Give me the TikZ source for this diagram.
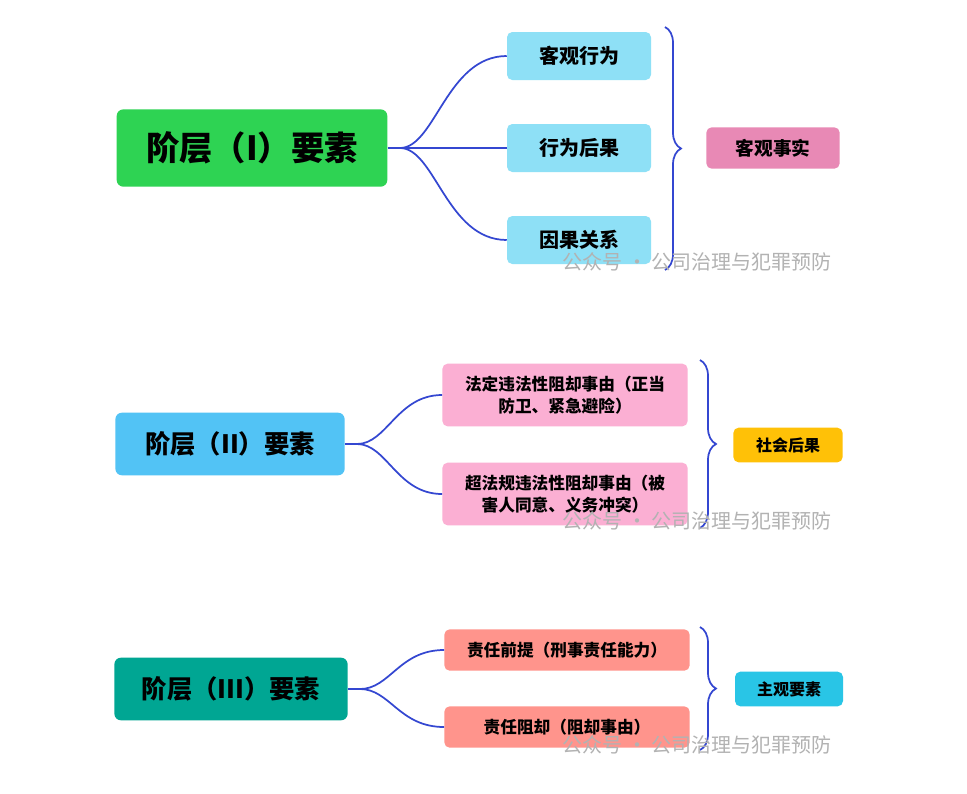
\documentclass[tikz,border=0pt]{standalone}
\usepackage{fontspec}
\newfontfamily\cjk{Noto Sans CJK SC}
\usetikzlibrary{decorations.pathreplacing}
\definecolor{linkblue}{HTML}{3447D1}
\definecolor{lvone}{HTML}{2ED353}
\definecolor{lvtwo}{HTML}{52C3F5}
\definecolor{lvthree}{HTML}{00A693}
\definecolor{factbox}{HTML}{8EE0F6}
\definecolor{illbox}{HTML}{FBAFD3}
\definecolor{dutybox}{HTML}{FF948C}
\definecolor{factsum}{HTML}{E889B5}
\definecolor{illsum}{HTML}{FFC107}
\definecolor{dutysum}{HTML}{29C5E6}
\tikzset{
  main/.style={rounded corners=5pt, font=\cjk\bfseries\fontsize{19}{22}\selectfont, text=black, inner sep=0pt},
  leaf/.style={rounded corners=4pt, font=\cjk\bfseries\fontsize{12.5}{17}\selectfont, text=black, inner sep=0pt, align=center},
  link/.style={linkblue, line width=1.3pt},
  brace/.style={linkblue, line width=1.3pt, decorate, decoration={brace, amplitude=12pt}},
  wmark/.style={font=\cjk\fontsize{15}{18}\selectfont, text=black!30}
}
\begin{document}
\begin{tikzpicture}[x=0.75pt, y=-0.75pt]
    \useasboundingbox[fill=white] (0,0) rectangle (967,793);

    % level I
    \node[main, fill=lvone, minimum width=203pt, minimum height=58pt, font=\cjk\bfseries\fontsize{25}{28}\selectfont] (m1) at (252,148) {阶层（I）要素};
    \node[leaf, fill=factbox, minimum width=108pt, minimum height=36pt, font=\cjk\bfseries\fontsize{15}{18}\selectfont] (c11) at (579,56) {客观行为};
    \node[leaf, fill=factbox, minimum width=108pt, minimum height=36pt, font=\cjk\bfseries\fontsize{15}{18}\selectfont] (c12) at (579,148) {行为后果};
    \node[leaf, fill=factbox, minimum width=108pt, minimum height=36pt, font=\cjk\bfseries\fontsize{15}{18}\selectfont] (c13) at (579,240) {因果关系};
    \coordinate (j1) at (400,148);
    \draw[link] (m1.east) -- (j1);
    \draw[link] (j1) .. controls +(35,0) and +(-60,0) .. (c11.west);
    \draw[link] (j1) -- (c12.west);
    \draw[link] (j1) .. controls +(35,0) and +(-60,0) .. (c13.west);
    \coordinate (b1t) at (665,27);
    \coordinate (b1b) at (665,270);
    \draw[brace] (b1t) -- (b1b);
    \node[leaf, fill=factsum, minimum width=100pt, minimum height=31pt, font=\cjk\bfseries\fontsize{14}{17}\selectfont] (r1) at (773,148) {客观事实};
    \node[wmark] (w1) at (697,262) {公众号 · 公司治理与犯罪预防};

    % level II
    \node[main, fill=lvtwo, minimum width=172pt, minimum height=47pt] (m2) at (230,444) {阶层（II）要素};
    \node[leaf, fill=illbox, minimum width=184pt, minimum height=47pt] (c21) at (565,395) {法定违法性阻却事由（正当\\防卫、紧急避险）};
    \node[leaf, fill=illbox, minimum width=184pt, minimum height=47pt] (c22) at (565,494) {超法规违法性阻却事由（被\\害人同意、义务冲突）};
    \coordinate (j2) at (357,444);
    \draw[link] (m2.east) -- (j2);
    \draw[link] (j2) .. controls +(30,0) and +(-45,0) .. (c21.west);
    \draw[link] (j2) .. controls +(30,0) and +(-45,0) .. (c22.west);
    \coordinate (b2t) at (700,360);
    \coordinate (b2b) at (700,528);
    \draw[brace] (b2t) -- (b2b);
    \node[leaf, fill=illsum, minimum width=82pt, minimum height=26pt, font=\cjk\bfseries\fontsize{12}{15}\selectfont] (r2) at (788,445) {社会后果};
    \node[wmark] (w2) at (697,521) {公众号 · 公司治理与犯罪预防};

    % level III
    \node[main, fill=lvthree, minimum width=175pt, minimum height=47pt] (m3) at (231,689) {阶层（III）要素};
    \node[leaf, fill=dutybox, minimum width=184pt, minimum height=31pt] (c31) at (567,650) {责任前提（刑事责任能力）};
    \node[leaf, fill=dutybox, minimum width=184pt, minimum height=31pt] (c32) at (567,727) {责任阻却（阻却事由）};
    \coordinate (j3) at (360,689);
    \draw[link] (m3.east) -- (j3);
    \draw[link] (j3) .. controls +(30,0) and +(-45,0) .. (c31.west);
    \draw[link] (j3) .. controls +(30,0) and +(-45,0) .. (c32.west);
    \coordinate (b3t) at (700,627);
    \coordinate (b3b) at (700,750);
    \draw[brace] (b3t) -- (b3b);
    \node[leaf, fill=dutysum, minimum width=81pt, minimum height=26pt, font=\cjk\bfseries\fontsize{12}{15}\selectfont] (r3) at (789,689) {主观要素};
    \node[wmark] (w3) at (697,745) {公众号 · 公司治理与犯罪预防};
\end{tikzpicture}
\end{document}
